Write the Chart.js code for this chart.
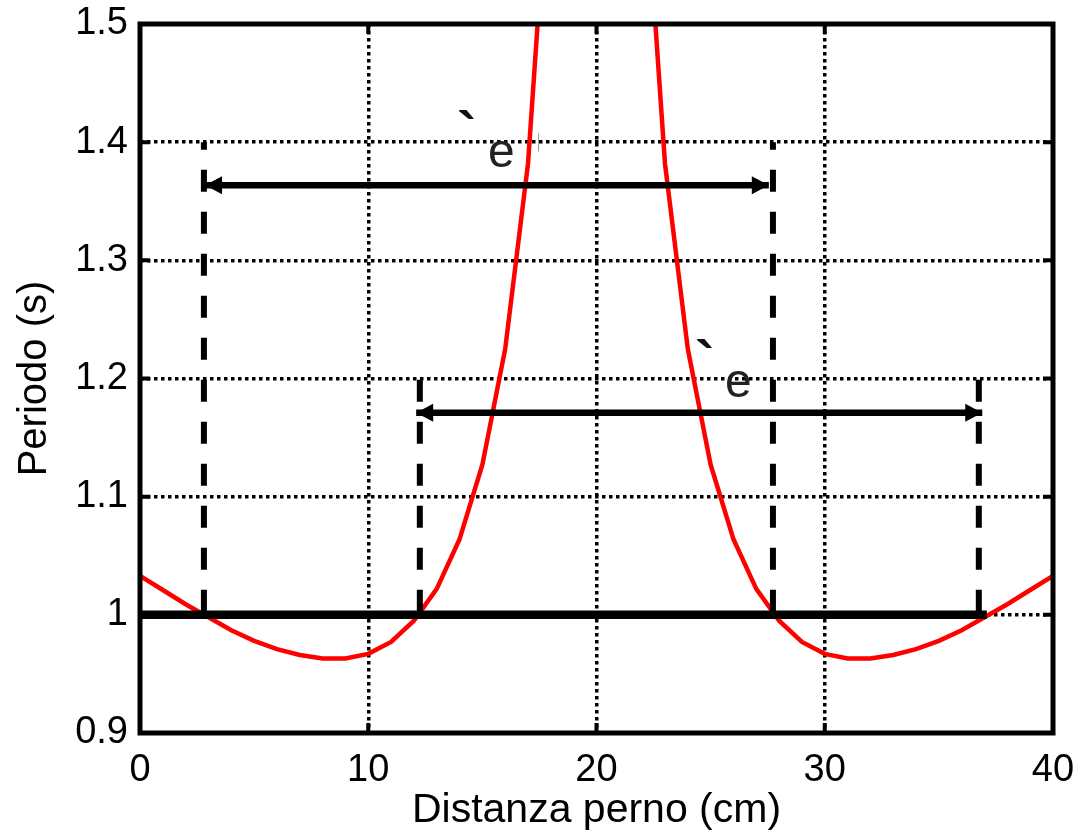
<!DOCTYPE html>
<html><head><meta charset="utf-8">
<script src="https://cdn.jsdelivr.net/npm/chart.js@4.4.0/dist/chart.umd.min.js"></script>
<style>html,body{margin:0;padding:0;background:#fff;}#wrap{width:1092px;height:837px;}</style>
</head><body><div id="wrap"><canvas id="c" width="1092" height="837"></canvas></div>
<script>
// ---- data ----
const distanze = [0,1,2,3,4,5,6,7,8,9,10,11,12,13,14,15,16,17,18,19,20,21,22,23,24,25,26,27,28,29,30,31,32,33,34,35,36,37,38,39,40];
const periodi = [1.033,1.021,1.009,0.998,0.987,0.978,0.971,0.966,0.963,0.963,0.967,0.977,0.995,1.022,1.064,1.127,1.225,1.382,1.663,2.327,null,2.327,1.663,1.382,1.225,1.127,1.064,1.022,0.995,0.977,0.967,0.963,0.963,0.966,0.971,0.978,0.987,0.998,1.009,1.021,1.033];
const xTicks = [0,10,20,30,40];
const yTicks = [0.9,1.0,1.1,1.2,1.3,1.4,1.5];
const rifX = [0, 37.1];          // thick reference line at T = 1 s
const rifY = 1.0;
const tratteggioX = [2.8, 27.73, 12.26, 36.75];   // dashed verticals
const tratteggioTop = [1.4, 1.4, 1.2, 1.2];
const freccia1X = [2.85, 27.55]; const freccia1Y = 1.3635;
const freccia2X = [12.1, 36.9];  const freccia2Y = 1.171;
const testi = ['`','e','`','e'];
const testiX = [13.9, 15.25, 24.33, 25.63];
const testiY = [1.392, 1.379, 1.198, 1.184];

const FONT = '"Liberation Sans", Arial, sans-serif';

const datasets = [];
// arrows
[[freccia1X, freccia1Y],[freccia2X, freccia2Y]].forEach(([xs, y]) => {
  datasets.push({data: xs.map(x => ({x, y})), borderColor:'#000', borderWidth:6.5, pointRadius:0, order:1});
});
// dashed verticals
tratteggioX.forEach((x, i) => {
  datasets.push({data:[{x, y:rifY},{x, y:tratteggioTop[i]}], borderColor:'#000', borderWidth:6, borderDash:[22,20], borderDashOffset:39, pointRadius:0, order:2});
});
// reference line
datasets.push({data: rifX.map(x => ({x, y:rifY})), borderColor:'#000', borderWidth:8.5, pointRadius:0, order:3});
// curve
datasets.push({data: distanze.map((x,i)=>({x, y: periodi[i]})), borderColor:'#ff0000', borderWidth:4.5, pointRadius:0, spanGaps:false, order:4});

const decor = {
  id:'decor',
  afterDatasetsDraw(chart){
    const {ctx, chartArea:a, scales:{x, y}} = chart;
    ctx.save();
    // arrow heads
    const head = (tipX, py, dir) => {
      ctx.beginPath();
      ctx.moveTo(tipX, py);
      ctx.lineTo(tipX + dir*17, py - 9);
      ctx.lineTo(tipX + dir*17, py + 9);
      ctx.closePath();
      ctx.fillStyle = '#000'; ctx.fill();
    };
    [[freccia1X, freccia1Y],[freccia2X, freccia2Y]].forEach(([xs, v]) => {
      const py = y.getPixelForValue(v);
      head(x.getPixelForValue(xs[0]), py, 1);
      head(x.getPixelForValue(xs[1]), py, -1);
    });
    // text artefacts
    ctx.textAlign = 'left'; ctx.textBaseline = 'alphabetic';
    testi.forEach((t,i) => {
      ctx.fillStyle = t === '`' ? '#111' : '#222';
      ctx.font = (t === '`' ? 'bold 58px ' : '48px ') + FONT;
      ctx.fillText(t, x.getPixelForValue(testiX[i]), y.getPixelForValue(testiY[i]));
    });
    ctx.fillStyle = '#999';
    ctx.fillRect(x.getPixelForValue(17.44), y.getPixelForValue(1.4074), 1, 18);
    // frame
    ctx.strokeStyle = '#000'; ctx.lineWidth = 5; ctx.lineJoin = 'miter';
    ctx.strokeRect(a.left, a.top, a.right - a.left, a.bottom - a.top);
    // inward ticks
    ctx.lineWidth = 4; ctx.lineCap = 'butt';
    ctx.beginPath();
    xTicks.forEach(v => { const p = x.getPixelForValue(v);
      ctx.moveTo(p, a.bottom); ctx.lineTo(p, a.bottom - 10);
      ctx.moveTo(p, a.top); ctx.lineTo(p, a.top + 10); });
    yTicks.forEach(v => { const p = y.getPixelForValue(v);
      ctx.moveTo(a.left, p); ctx.lineTo(a.left + 10, p);
      ctx.moveTo(a.right, p); ctx.lineTo(a.right - 10, p); });
    ctx.stroke();
    ctx.restore();
  }
};

new Chart(document.getElementById('c'), {
  type:'line',
  data:{datasets},
  options:{
    responsive:false, animation:false, devicePixelRatio:1,
    layout:{padding:{top:24, right:39, left:0, bottom:0}},
    plugins:{legend:{display:false}, tooltip:{enabled:false}},
    scales:{
      x:{type:'linear', min:0, max:40,
        afterBuildTicks: s => { s.ticks = xTicks.map(v => ({value:v})); },
        afterFit: s => { s.height = 104; s.paddingLeft = 0; s.paddingRight = 0; },
        ticks:{font:{family:FONT, size:38}, color:'#000', padding:15, maxRotation:0},
        grid:{color:'#000', lineWidth:3.5, drawTicks:false},
        border:{display:false, dash:[3.5,3.5]},
        title:{display:true, text:'Distanza perno (cm)', color:'#000', font:{family:FONT, size:41}, padding:{top:0, bottom:2}}
      },
      y:{type:'linear', min:0.9, max:1.5,
        afterBuildTicks: s => { s.ticks = yTicks.map(v => ({value:v})); },
        afterFit: s => { s.width = 140; s.paddingTop = 0; s.paddingBottom = 0; },
        ticks:{font:{family:FONT, size:38}, color:'#000', padding:12, callback: v => String(Number(v.toFixed(1)))},
        grid:{color:'#000', lineWidth:3.5, drawTicks:false},
        border:{display:false, dash:[3.5,3.5]},
        title:{display:true, text:'Periodo (s)', color:'#000', font:{family:FONT, size:40}, padding:{top:11, bottom:0}}
      }
    }
  },
  plugins:[decor]
});
</script></body></html>
